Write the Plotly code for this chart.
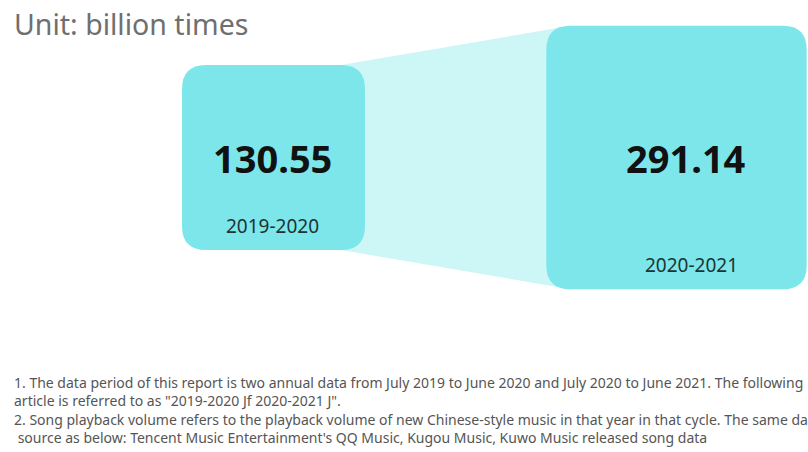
import plotly.graph_objects as go

# Song playback volume per annual cycle (billion times)
PERIODS = ["2019-2020", "2020-2021"]
VALUES = [130.55, 291.14]
VALUE_LABELS = ["130.55", "291.14"]

TITLE = "Unit: billion times"
NOTES = [
    "1. The data period of this report is two annual data from July 2019 to June 2020 and July 2020 to June 2021. The following",
    "article is referred to as \"2019-2020 Jf 2020-2021 J\".",
    "2. Song playback volume refers to the playback volume of new Chinese-style music in that year in that cycle. The same data",
    " source as below: Tencent Music Entertainment's QQ Music, Kugou Music, Kuwo Music released song data",
]

# layout / style constants
W, H = 808, 452
CENTERS_X = [273.5, 676.5]
CENTER_Y = 157.5
EDGE_EXP = 0.44
K_W, K_H = 21.45, 21.69
RADIUS = 24
BOX_COLOR = "#7de6ea"
LINK_COLOR = "#cdf6f7"
VALUE_DX = [-1, 9]
PERIOD_DX = [-1, 15]


def rounded_rect(x0, y0, x1, y1, r):
    return (
        f"M {x0 + r},{y0} L {x1 - r},{y0} Q {x1},{y0} {x1},{y0 + r} "
        f"L {x1},{y1 - r} Q {x1},{y1} {x1 - r},{y1} "
        f"L {x0 + r},{y1} Q {x0},{y1} {x0},{y1 - r} "
        f"L {x0},{y0 + r} Q {x0},{y0} {x0 + r},{y0} Z"
    )


boxes = []
for cx, v in zip(CENTERS_X, VALUES):
    w = K_W * v ** EDGE_EXP
    h = K_H * v ** EDGE_EXP
    boxes.append((cx - w / 2, CENTER_Y - h / 2, cx + w / 2, CENTER_Y + h / 2))

fig = go.Figure()
fig.add_trace(go.Scatter(x=[0, W], y=[0, H], mode="markers",
                         marker=dict(opacity=0), hoverinfo="skip", showlegend=False))

shapes = []
# connecting band between the two boxes
(lx0, ly0, lx1, ly1), (rx0, ry0, rx1, ry1) = boxes
band = (f"M {lx1 - RADIUS},{ly0} L {rx0 + RADIUS},{ry0} "
        f"L {rx0 + RADIUS},{ry1} L {lx1 - RADIUS},{ly1} Z")
shapes.append(dict(type="path", path=band, xref="x", yref="y",
                   fillcolor=LINK_COLOR, line=dict(width=0), layer="below"))
for (x0, y0, x1, y1) in boxes:
    shapes.append(dict(type="path", path=rounded_rect(x0, y0, x1, y1, RADIUS),
                       xref="x", yref="y", fillcolor=BOX_COLOR,
                       line=dict(width=0), layer="below"))

annotations = [dict(x=12, y=24, xref="x", yref="y", text=TITLE, showarrow=False,
                    xanchor="left", yanchor="middle",
                    font=dict(family="Noto Sans", size=28.5, color="#6f6f6f"))]
for (x0, y0, x1, y1), lab, per, vdx, pdx in zip(boxes, VALUE_LABELS, PERIODS, VALUE_DX, PERIOD_DX):
    cx = (x0 + x1) / 2
    annotations.append(dict(x=cx + vdx, y=(y0 + y1) / 2, xref="x", yref="y", text=f"<b>{lab}</b>",
                            showarrow=False, xanchor="center", yanchor="middle",
                            font=dict(family="Noto Sans", size=38, color="#111111")))
    annotations.append(dict(x=cx + pdx, y=y1 - 24, xref="x", yref="y", text=per,
                            showarrow=False, xanchor="center", yanchor="middle",
                            font=dict(family="Noto Sans", size=19, color="#1c3434")))

for i, line in enumerate(NOTES):
    annotations.append(dict(x=12, y=382 + i * 18.5, xref="x", yref="y", text=line,
                            showarrow=False, xanchor="left", yanchor="middle",
                            font=dict(family="Noto Sans", size=14, color="#555555")))

fig.update_layout(
    width=W, height=H,
    margin=dict(l=0, r=0, t=0, b=0),
    paper_bgcolor="white", plot_bgcolor="white",
    xaxis=dict(range=[0, W], visible=False, fixedrange=True),
    yaxis=dict(range=[H, 0], visible=False, fixedrange=True),
    shapes=shapes, annotations=annotations,
    showlegend=False,
)

fig.write_html("out.html", config=dict(displayModeBar=False))
